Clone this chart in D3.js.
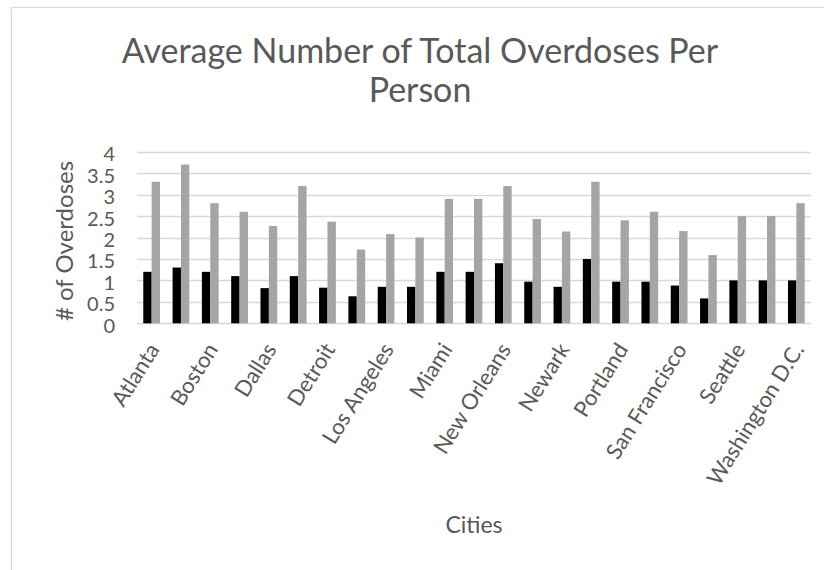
<!DOCTYPE html>
<html>
<head>
<meta charset="utf-8">
<script src="https://cdn.jsdelivr.net/npm/d3@7/dist/d3.min.js"></script>
<style>
  body { margin: 0; background: #ffffff; }
  text { font-family: Lato, "Open Sans", sans-serif; fill: #595959; }
</style>
</head>
<body>
<svg id="chart" width="824" height="570"></svg>
<script>
// City categories; every second city has no label on the axis
const categories = ["Atlanta", "", "Boston", "", "Dallas", "", "Detroit", "",
  "Los Angeles", "", "Miami", "", "New Orleans", "", "Newark", "", "Portland", "",
  "San Francisco", "", "Seattle", "", "Washington D.C."];

// Two series of average overdoses per person
const seriesNames = ["Series 1", "Series 2"];
const series1 = [1.2, 1.3, 1.2, 1.1, 0.82, 1.1, 0.83, 0.63, 0.85, 0.85, 1.2, 1.2,
  1.4, 0.97, 0.85, 1.5, 0.97, 0.97, 0.88, 0.58, 1.0, 1.0, 1.0];
const series2 = [3.3, 3.7, 2.8, 2.6, 2.27, 3.2, 2.37, 1.72, 2.08, 2.0, 2.9, 2.9,
  3.2, 2.43, 2.14, 3.3, 2.4, 2.6, 2.15, 1.59, 2.5, 2.5, 2.8];

const yTicks = [0, 0.5, 1, 1.5, 2, 2.5, 3, 3.5, 4];
const yTickLabels = ["0", "0.5", "1", "1.5", "2", "2.5", "3", "3.5", "4"];

const titleLines = ["Average Number of Total Overdoses Per", "Person"];
const yTitle = "# of Overdoses";
const xTitle = "Cities";

const colors = ["#000000", "#a5a5a5"];

const svg = d3.select("#chart");

// chart frame
svg.append("rect")
  .attr("x", 11.5).attr("y", 7.5)
  .attr("width", 830).attr("height", 600)
  .attr("fill", "none").attr("stroke", "#d9d9d9").attr("stroke-width", 1.2);

const plot = { left: 137, right: 811, top: 151.7, bottom: 323.3 };

const x0 = d3.scaleBand()
  .domain(d3.range(categories.length))
  .range([plot.left, plot.right])
  .paddingInner(0).paddingOuter(0);

// gap width of 150% between clusters
const bw = x0.bandwidth();
const barW = bw / 3.5;
const x1 = d3.scaleBand()
  .domain(seriesNames)
  .range([(bw - 2 * barW) / 2, (bw + 2 * barW) / 2]);

const y = d3.scaleLinear().domain([0, 4]).range([plot.bottom, plot.top]);

// gridlines
svg.append("g")
  .selectAll("line")
  .data(yTicks)
  .join("line")
  .attr("x1", plot.left).attr("x2", plot.right)
  .attr("y1", d => Math.round(y(d)) + 0.5).attr("y2", d => Math.round(y(d)) + 0.5)
  .attr("stroke", "#d9d9d9").attr("stroke-width", 1.3);

// y axis labels
const yAxis = d3.axisLeft(y)
  .tickValues(yTicks)
  .tickFormat((d, i) => yTickLabels[i])
  .tickSize(0).tickPadding(0);

const gy = svg.append("g")
  .attr("transform", `translate(115,0)`)
  .call(yAxis);
gy.select(".domain").remove();
gy.selectAll("text")
  .attr("dy", "0.45em")
  .style("font-size", "20px")
  .style("font-family", "Lato, 'Open Sans', sans-serif")
  .attr("fill", "#595959");

// bars
const rows = categories.map((c, i) => ({ i, values: [series1[i], series2[i]] }));
svg.append("g")
  .selectAll("g")
  .data(rows)
  .join("g")
  .attr("transform", d => `translate(${x0(d.i)},0)`)
  .selectAll("rect")
  .data(d => d.values.map((v, k) => ({ key: seriesNames[k], v, k })))
  .join("rect")
  .attr("x", d => x1(d.key))
  .attr("width", x1.bandwidth())
  .attr("y", d => y(d.v))
  .attr("height", d => y(0) - y(d.v))
  .attr("fill", d => colors[d.k]);

// x axis labels, rotated
const xAxis = d3.axisBottom(x0)
  .tickValues(d3.range(categories.length).filter(i => categories[i] !== ""))
  .tickFormat(i => categories[i])
  .tickSize(0).tickPadding(0);

const gx = svg.append("g")
  .attr("transform", `translate(0,${plot.bottom})`)
  .call(xAxis);
gx.select(".domain").remove();
gx.selectAll(".tick text")
  .attr("transform", "translate(2,22) rotate(-58)")
  .attr("text-anchor", "end")
  .attr("dy", "0.35em")
  .attr("y", 0)
  .style("font-size", "22px")
  .style("font-family", "Lato, 'Open Sans', sans-serif")
  .attr("fill", "#595959");

// title
svg.append("text")
  .attr("x", 420).attr("y", 63)
  .attr("text-anchor", "middle")
  .style("font-size", "34px")
  .selectAll("tspan")
  .data(titleLines)
  .join("tspan")
  .attr("x", 420)
  .attr("dy", (d, i) => i === 0 ? 0 : 39)
  .text(d => d);

// axis titles
svg.append("text")
  .attr("transform", "translate(73,241) rotate(-90)")
  .attr("text-anchor", "middle")
  .style("font-size", "24px")
  .text(yTitle);

svg.append("text")
  .attr("x", 474).attr("y", 533)
  .attr("text-anchor", "middle")
  .style("font-size", "23px")
  .text(xTitle);
</script>
</body>
</html>
